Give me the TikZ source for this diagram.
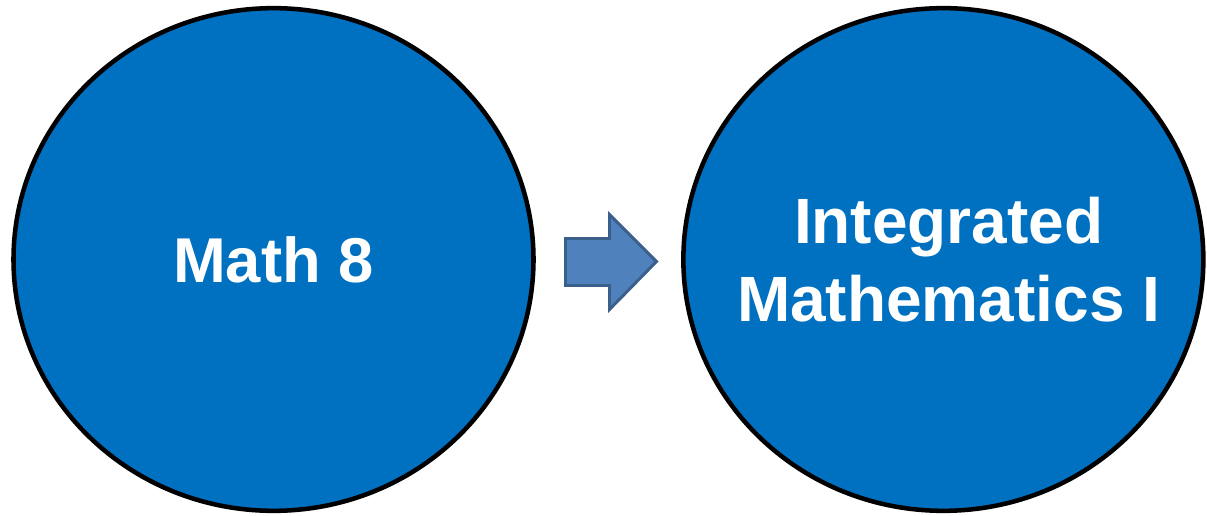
\documentclass[tikz,border=0pt]{standalone}
\usepackage{fontspec}
\setmainfont{Liberation Sans}
\usepackage{tikz}
\usetikzlibrary{positioning}
\usetikzlibrary{shapes.geometric}

\definecolor{courseblue}{HTML}{0070C0}
\definecolor{arrowfill}{HTML}{4F81BD}
\definecolor{arrowedge}{HTML}{3A5F8B}

\tikzset{
    course/.style={ellipse, draw=black, line width=3.4pt, fill=courseblue,
        minimum width=390pt, minimum height=377pt, inner sep=0pt},
    coursename/.style={text=white, align=center, inner sep=0pt},
    nextarrow/.style={draw=arrowedge, fill=arrowfill, line width=2.2pt, line join=miter}
}

\begin{document}
\begin{tikzpicture}[x=0.75pt, y=-0.75pt]
    \useasboundingbox (0,0) rectangle (1207,516);

    \node[course] (math8) at (273.5,259.5) {};
    \node[course, right=109pt of math8] (integ) {};

    \node[coursename, font=\bfseries\fontsize{47.5}{57}\selectfont] (math8txt) at (math8.center) {Math 8};
    \node[coursename, font=\bfseries\fontsize{48}{58}\selectfont, xshift=4pt] (integtxt) at (integ.center) {Integrated\\Mathematics I};

    % block arrow between the two courses
    \coordinate (tail) at (565.5,261.5);
    \draw[nextarrow] (tail) ++(0,-23) -- ++(44,0) -- ++(0,-24) -- (656.5,261.5)
        -- (609.5,309.5) -- ++(0,-24) -- ++(-44,0) -- cycle;
\end{tikzpicture}
\end{document}
